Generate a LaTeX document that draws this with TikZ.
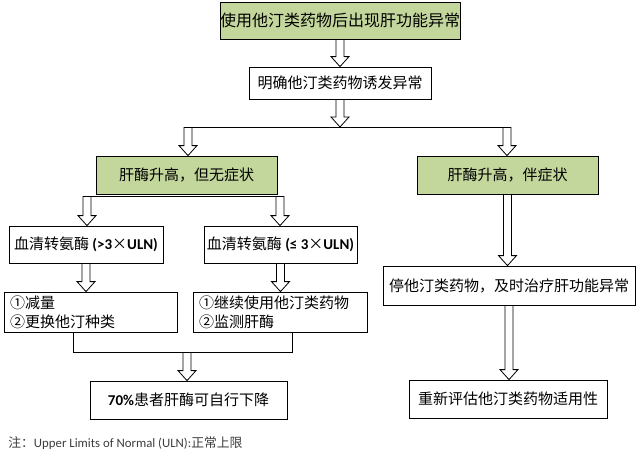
\documentclass[tikz,border=0pt]{standalone}
\usepackage{fontspec}
\setmainfont{Noto Sans CJK SC}
\newfontfamily\lat{Carlito}
\usetikzlibrary{calc}
\definecolor{boxgreen}{RGB}{195,214,155}
\definecolor{notegray}{RGB}{60,60,60}
% hollow block arrow, straight down from #1 to #2
\newcommand{\harrow}[2]{%
  \draw ($(#1)+(-4,0)$) -- ($(#1 |- #2)+(-4,-10)$) -- ($(#1 |- #2)+(-9,-10)$) -- (#1 |- #2)
    -- ($(#1 |- #2)+(9,-10)$) -- ($(#1 |- #2)+(4,-10)$) -- ($(#1)+(4,0)$);}

\tikzset{every picture/.style={line width=0.8pt}}

\begin{document}
\begin{tikzpicture}[x=1pt,y=1pt,yscale=-1,xscale=1,
  box/.style={draw, inner sep=0pt, font=\fontsize{15}{19}\selectfont},
  greenbox/.style={box, fill=boxgreen},
  listbox/.style={box, align=left, inner xsep=6pt}]
	\useasboundingbox (0,0) rectangle (640,458);

	% Boxes
	\node[greenbox, minimum width=238pt, minimum height=37pt, font=\fontsize{16}{19}\selectfont] (start) at (340,20.5) {使用他汀类药物后出现肝功能异常};
	\node[box, minimum width=182pt, minimum height=32pt] (confirm) at (340,83) {明确他汀类药物诱发异常};
	\node[greenbox, minimum width=181pt, minimum height=38pt] (nosym) at (186.5,175) {肝酶升高，但无症状};
	\node[greenbox, minimum width=181pt, minimum height=38pt] (sym) at (507.5,175) {肝酶升高，伴症状};
	\node[box, minimum width=154pt, minimum height=37pt] (high) at (86,244.5) {血清转氨酶 {\lat\bfseries (>3}×{\lat\bfseries ULN)}};
	\node[box, minimum width=153pt, minimum height=37pt] (low) at (280.5,244.5) {血清转氨酶 {\lat\bfseries (≤ 3}×{\lat\bfseries ULN)}};
	\node[listbox, text width=161pt, minimum height=40pt] (reduce) at (90.5,312) {①减量\\②更换他汀种类};
	\node[listbox, text width=162pt, minimum height=40pt] (keep) at (280,312) {①继续使用他汀类药物\\②监测肝酶};
	\node[box, minimum width=197pt, minimum height=38pt] (drop) at (188.5,400) {{\lat\bfseries 70\%}患者肝酶可自行下降};
	\node[box, minimum width=252pt, minimum height=39pt] (stop) at (509,285.5) {停他汀类药物，及时治疗肝功能异常};
	\node[box, minimum width=198pt, minimum height=38pt] (reassess) at (508,399) {重新评估他汀类药物适用性};

	% Note
	\node[anchor=west, inner sep=0pt, text=notegray, font=\fontsize{12.8}{14}\selectfont] (note) at (8,443) {注：{\lat Upper Limits of Normal (ULN):}正常上限};

	% Fork points
	\coordinate (forkL) at (188,127);
	\coordinate (forkR) at (507,127);
	\coordinate (subL) at (87,196);
	\coordinate (subR) at (280,196);
	\coordinate (mL) at (73,352);
	\coordinate (mR) at (292,352);
	\coordinate (merge) at (187,352);

	% Arrows
	\harrow{start.south}{confirm.north}
	\harrow{confirm.south}{forkL -| confirm.south}
	\draw ($(forkL)+(-4,0)$) -- ($(forkR)+(4,0)$);
	\harrow{forkL}{nosym.north}
	\harrow{forkR}{sym.north}
	\draw ($(subL)+(-4,0)$) -- ($(subR)+(4,0)$);
	\harrow{subL}{high.north}
	\harrow{subR}{low.north}
	\harrow{high.south}{reduce.north}
	\harrow{low.south}{keep.north}
	\draw (reduce.south -| mL) -- (mL) -- (mR) -- (keep.south -| mR);
	\harrow{merge}{drop.north}
	\harrow{sym.south}{stop.north}
	\harrow{stop.south}{reassess.north}

\end{tikzpicture}
\end{document}
